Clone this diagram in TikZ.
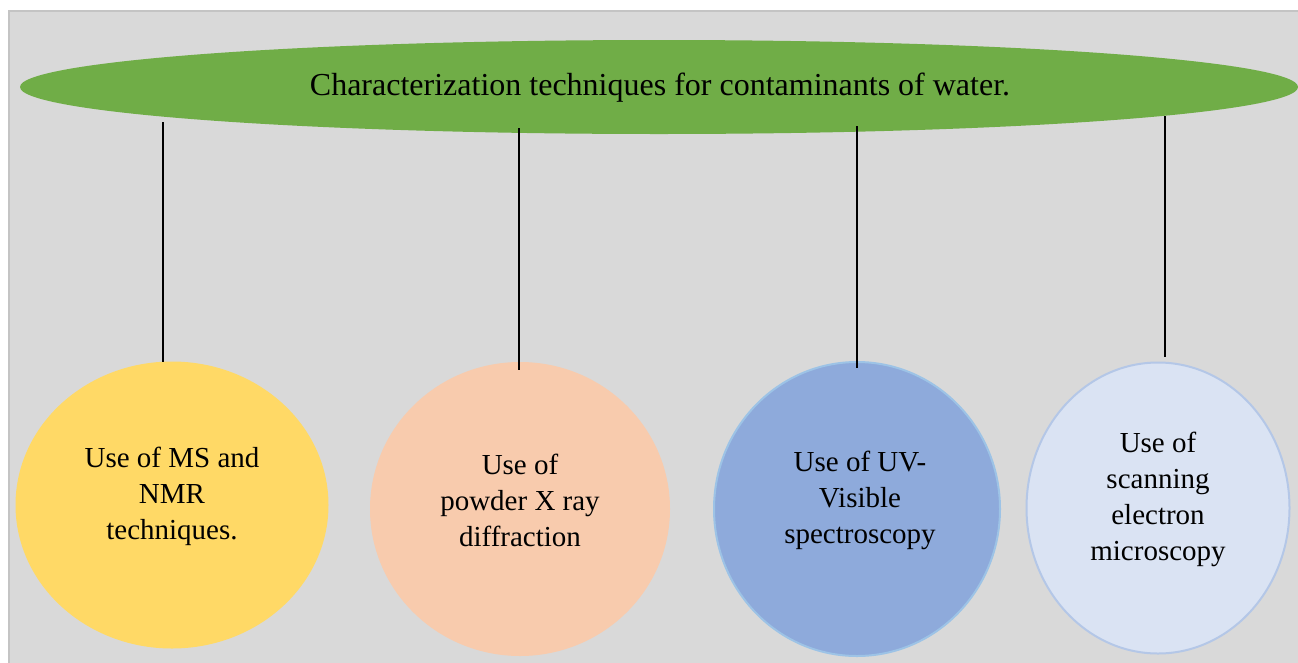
\documentclass[tikz,border=0pt]{standalone}
\usepackage{fontspec}
\setmainfont{Liberation Serif}
\usetikzlibrary{shapes.geometric}
\definecolor{bgray}{HTML}{D9D9D9}
\definecolor{fgray}{HTML}{C4C4C4}
\definecolor{tgreen}{HTML}{70AD47}
\definecolor{cyellow}{HTML}{FFD966}
\definecolor{cpeach}{HTML}{F8CBAD}
\definecolor{cblue}{HTML}{8EAADB}
\definecolor{cblueb}{HTML}{9DC3E6}
\definecolor{clight}{HTML}{DAE3F3}
\definecolor{clightb}{HTML}{B4C7E7}
\tikzset{
  blob/.style={ellipse, inner sep=0pt},
  lbl/.style={align=center, font=\fontsize{29}{36}\selectfont, inner sep=0pt},
  conn/.style={draw=black, line width=1.2pt}
}
\begin{document}
\begin{tikzpicture}[x=1pt,y=-1pt]
\useasboundingbox (0,0) rectangle (1298,662);
\fill[white] (0,0) rectangle (1298,662);
\fill[bgray] (9,11) rectangle (1300,664);
\draw[fgray, line width=2.5pt] (9,664) -- (9,11) -- (1300,11);
% title ellipse
\node[blob, fill=tgreen, minimum width=1278pt, minimum height=94pt] (top) at (659,87) {};
\node[lbl, font=\fontsize{32}{36}\selectfont] (title) at (660,88) {Characterization techniques for contaminants of water.};
% circles
\node[blob, fill=cyellow, minimum width=313pt, minimum height=287pt] (c1) at (172,505) {};
\node[blob, fill=cpeach, minimum width=300pt, minimum height=294pt] (c2) at (520,509) {};
\node[blob, fill=cblue, draw=cblueb, line width=2pt, minimum width=286pt, minimum height=294pt] (c3) at (857,509) {};
\node[blob, fill=clight, draw=clightb, line width=2pt, minimum width=263pt, minimum height=291pt] (c4) at (1158,508) {};
\node[lbl] (t1) at (172,496) {Use of MS and\\NMR\\techniques.};
\node[lbl] (t2) at (520,500) {Use of\\powder X ray\\diffraction};
\node[lbl] (t3) at (860,500) {Use of UV-\\Visible\\spectroscopy};
\node[lbl] (t4) at (1158,499) {Use of\\scanning\\electron\\microscopy};
% connector ends
\coordinate (a1) at (163,122);
\coordinate (a2) at (519,128);
\coordinate (a3) at (857,126);
\coordinate (a4) at (1165,116);
\coordinate (b1) at (163,362);
\coordinate (b2) at (519,370);
\coordinate (b3) at (857,368);
\coordinate (b4) at (1165,357);
\draw[conn] (a1) -- (b1);
\draw[conn] (a2) -- (b2);
\draw[conn] (a3) -- (b3);
\draw[conn] (a4) -- (b4);
\end{tikzpicture}
\end{document}
